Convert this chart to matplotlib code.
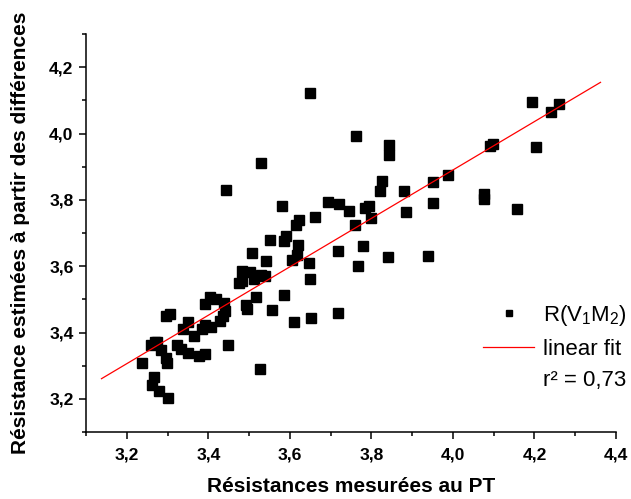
import numpy as np
import matplotlib
matplotlib.use("Agg")
import matplotlib.pyplot as plt
from matplotlib.lines import Line2D

# values
mesure = [3.649, 4.194, 4.240, 4.261, 3.763, 3.530, 3.844, 3.842, 4.092, 4.098,
          4.205, 3.989, 3.952, 3.826, 3.821, 3.880, 3.444, 3.952, 4.077, 4.077,
          4.158, 3.885, 3.581, 3.693, 3.721, 3.744, 3.784, 3.794, 3.800, 3.759,
          3.661, 3.623, 3.614, 3.590, 3.586, 3.552, 3.620, 3.508, 3.718, 3.780,
          3.840, 3.940, 3.618, 3.606, 3.541, 3.648, 3.768, 3.482, 3.503, 3.530,
          3.538, 3.511, 3.649, 3.482, 3.475, 3.586, 3.516, 3.404, 3.420, 3.392,
          3.439, 3.492, 3.495, 3.440, 3.557, 3.719, 3.436, 3.306, 3.297, 3.428,
          3.653, 3.611, 3.349, 3.392, 3.406, 3.384, 3.338, 3.364, 3.270, 3.260,
          3.323, 3.449, 3.283, 3.333, 3.349, 3.378, 3.392, 3.297, 3.298, 3.238,
          3.528, 3.266, 3.262, 3.279, 3.302, 3.274]
estime = [4.122, 4.094, 4.064, 4.089, 3.993, 3.911, 3.966, 3.935, 3.961, 3.968,
          3.959, 3.874, 3.855, 3.856, 3.828, 3.827, 3.829, 3.791, 3.817, 3.804,
          3.772, 3.763, 3.780, 3.792, 3.788, 3.767, 3.774, 3.781, 3.746, 3.725,
          3.748, 3.739, 3.725, 3.692, 3.676, 3.678, 3.663, 3.641, 3.645, 3.660,
          3.629, 3.630, 3.633, 3.618, 3.615, 3.609, 3.601, 3.586, 3.581, 3.573,
          3.571, 3.561, 3.562, 3.556, 3.548, 3.514, 3.507, 3.508, 3.500, 3.485,
          3.490, 3.482, 3.472, 3.466, 3.469, 3.459, 3.450, 3.457, 3.449, 3.434,
          3.444, 3.432, 3.432, 3.424, 3.418, 3.410, 3.412, 3.390, 3.371, 3.363,
          3.363, 3.362, 3.347, 3.350, 3.337, 3.330, 3.335, 3.322, 3.307, 3.309,
          3.291, 3.266, 3.242, 3.225, 3.203, 3.370]

# linear fit as drawn in the picture
fit_pente = 0.73
fit_origine = 0.97
fit_debut, fit_fin = 3.138, 4.362

plt.rcParams['font.family'] = ['Liberation Sans', 'DejaVu Sans']
plt.rcParams['mathtext.default'] = 'regular'

fig = plt.figure(figsize=(6.31, 4.99), dpi=100)
ax = fig.add_axes([86 / 631, 1 - 432 / 499, 530 / 631, 398 / 499])

ax.plot(mesure, estime, 's', color='black', markersize=6.5, linestyle='none')
xf = np.array([fit_debut, fit_fin])
ax.plot(xf, fit_origine + fit_pente * xf, color='red', linewidth=0.9)

ax.set_xlim(3.1, 4.4)
ax.set_ylim(3.1, 4.3)
ax.set_xticks(np.arange(3.2, 4.41, 0.2))
ax.set_yticks(np.arange(3.2, 4.21, 0.2))
ax.set_xticks(np.arange(3.1, 4.41, 0.1), minor=True)
ax.set_yticks(np.arange(3.1, 4.31, 0.1), minor=True)
fmt = lambda v, p: ('%.1f' % v).replace('.', ',')
ax.xaxis.set_major_formatter(plt.FuncFormatter(fmt))
ax.yaxis.set_major_formatter(plt.FuncFormatter(fmt))

for s in ['top', 'right']:
    ax.spines[s].set_visible(False)
for s in ['left', 'bottom']:
    ax.spines[s].set_linewidth(1.1)
ax.tick_params(which='major', direction='out', length=5, width=1.1,
               labelsize=12.6, pad=6)
ax.tick_params(which='minor', direction='out', length=3, width=1.1)
ax.tick_params(axis='y', which='major', pad=4)
for lab in ax.get_xticklabels() + ax.get_yticklabels():
    lab.set_fontweight('bold')

ax.set_xlabel('Résistances mesurées au PT', fontsize=15, fontweight='bold')
ax.set_ylabel('Résistance estimées à partir des différences', fontsize=15,
              fontweight='bold')
ax.xaxis.set_label_coords(0.5, -0.113)
ax.yaxis.set_label_coords(-0.106, 0.5)

handles = [Line2D([], [], marker='s', color='black', linestyle='none', markersize=5),
           Line2D([], [], color='red', linewidth=0.9),
           Line2D([], [], linestyle='none')]
labels = ['R(V$_1$M$_2$)', 'linear fit', 'r² = 0,73']
ax.legend(handles, labels, loc='upper left', frameon=False, fontsize=16,
          bbox_to_anchor=(483 / 631, 1 - 303 / 499), bbox_transform=fig.transFigure,
          borderpad=0, borderaxespad=0, handlelength=2.3, handletextpad=0.4,
          labelspacing=0.48)

fig.savefig('out.png', dpi=100)
